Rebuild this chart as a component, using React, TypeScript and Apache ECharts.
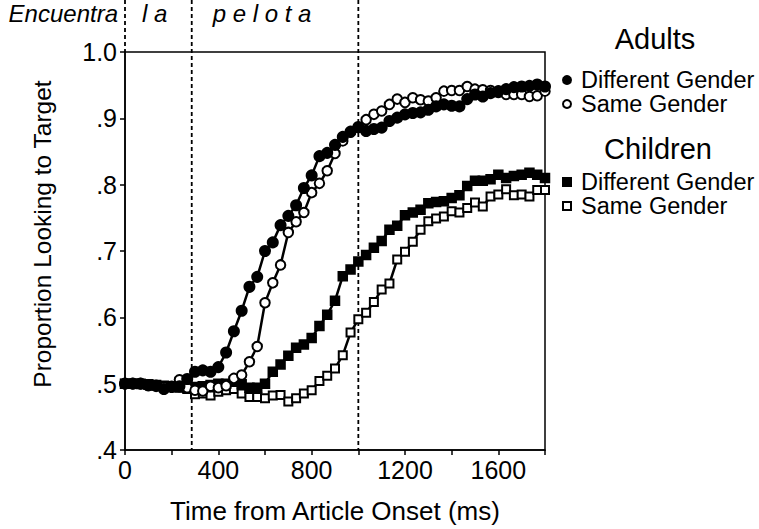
import React, { useEffect, useRef } from 'react';
import * as echarts from 'echarts';

// Sampling interval of the eye-tracking data (one frame at 30 fps)
const FRAME_MS = 1000 / 30;

const adultsDifferent = [
  0.500, 0.500, 0.500, 0.498, 0.497, 0.492, 0.495, 0.496, 0.507, 0.518,
  0.520, 0.518, 0.525, 0.547, 0.579, 0.610, 0.646, 0.661, 0.700, 0.713,
  0.739, 0.753, 0.769, 0.795, 0.814, 0.843, 0.848, 0.860, 0.872, 0.880,
  0.887, 0.881, 0.884, 0.886, 0.896, 0.901, 0.906, 0.908, 0.909, 0.913,
  0.918, 0.921, 0.919, 0.918, 0.929, 0.936, 0.933, 0.938, 0.941, 0.944,
  0.947, 0.948, 0.949, 0.951, 0.948,
];

const adultsSame = [
  0.500, 0.500, 0.500, 0.497, 0.496, 0.495, 0.496, 0.506, 0.494, 0.490,
  0.489, 0.496, 0.494, 0.497, 0.508, 0.513, 0.533, 0.556, 0.622, 0.652,
  0.679, 0.728, 0.744, 0.758, 0.788, 0.802, 0.821, 0.847, 0.866, 0.879,
  0.886, 0.898, 0.906, 0.911, 0.921, 0.929, 0.924, 0.931, 0.928, 0.926,
  0.931, 0.941, 0.942, 0.942, 0.948, 0.944, 0.943, 0.942, 0.939, 0.936,
  0.936, 0.936, 0.933, 0.934, 0.941,
];

const childrenDifferent = [
  0.500, 0.500, 0.500, 0.499, 0.498, 0.497, 0.496, 0.495, 0.494, 0.495,
  0.496, 0.498, 0.500, 0.500, 0.503, 0.499, 0.494, 0.494, 0.500, 0.518,
  0.529, 0.542, 0.554, 0.559, 0.569, 0.587, 0.604, 0.625, 0.662, 0.672,
  0.684, 0.694, 0.705, 0.715, 0.732, 0.738, 0.754, 0.758, 0.762, 0.772,
  0.774, 0.775, 0.780, 0.784, 0.798, 0.806, 0.806, 0.808, 0.815, 0.810,
  0.813, 0.815, 0.818, 0.815, 0.810,
];

const childrenSame = [
  0.500, 0.500, 0.499, 0.498, 0.497, 0.496, 0.495, 0.494, 0.492, 0.484,
  0.485, 0.482, 0.488, 0.490, 0.492, 0.485, 0.480, 0.480, 0.478, 0.482,
  0.483, 0.473, 0.478, 0.485, 0.490, 0.504, 0.512, 0.523, 0.543, 0.577,
  0.597, 0.607, 0.623, 0.642, 0.651, 0.687, 0.699, 0.714, 0.732, 0.745,
  0.749, 0.752, 0.760, 0.758, 0.765, 0.773, 0.767, 0.782, 0.785, 0.793,
  0.784, 0.785, 0.782, 0.792, 0.792,
];

// Word boundaries (ms) of the sentence "Encuentra la pelota"
const wordBoundaries = [0, 286, 1000];
const sentenceWords = ['Encuentra', 'l a', 'p e l o t a'];

const groupTitles = ['Adults', 'Children'];
const conditionNames = ['Different Gender', 'Same Gender'];

const FONT = '"Liberation Sans", Arial, Helvetica, sans-serif';

export default function App() {
  const ref = useRef<HTMLDivElement>(null);

  useEffect(() => {
    if (!ref.current) return;
    const chart = echarts.init(ref.current, null, { renderer: 'svg' });

    const toPoints = (arr: number[]) => arr.map((v, i) => [i * FRAME_MS, v]);

    const mkSeries = (
      group: string,
      cond: string,
      data: number[],
      symbol: string,
      filled: boolean,
      size: number
    ) => ({
      name: `${group} – ${cond}`,
      type: 'line',
      data: toPoints(data),
      symbol,
      symbolSize: size,
      showAllSymbol: true,
      clip: false,
      lineStyle: { color: '#000', width: 2.5 },
      itemStyle: {
        color: filled ? '#000' : '#fff',
        borderColor: '#000',
        borderWidth: 2,
      },
      emphasis: { disabled: true },
      z: 3,
    });

    const series = [
      mkSeries(groupTitles[1], conditionNames[1], childrenSame, 'rect', false, 8),
      mkSeries(groupTitles[1], conditionNames[0], childrenDifferent, 'rect', true, 8.5),
      mkSeries(groupTitles[0], conditionNames[1], adultsSame, 'circle', false, 9.5),
      mkSeries(groupTitles[0], conditionNames[0], adultsDifferent, 'circle', true, 10),
    ];

    const legendBase = {
      orient: 'vertical',
      left: 557,
      itemWidth: 8,
      itemHeight: 8,
      itemGap: 0,
      selectedMode: false,
      formatter: (name: string) => name.split(' – ')[1],
      textStyle: {
        fontFamily: FONT,
        fontSize: 23.5,
        color: '#000',
        lineHeight: 24,
        padding: [0, 0, 0, 5],
      },
    };

    chart.setOption({
      animation: false,
      backgroundColor: '#fff',
      grid: {
        left: 125,
        top: 52,
        right: 214,
        bottom: 75,
        show: true,
        borderColor: '#000',
        borderWidth: 1.5,
        backgroundColor: 'transparent',
      },
      xAxis: {
        type: 'value',
        min: 0,
        max: 1800,
        interval: 200,
        name: 'Time from Article Onset (ms)',
        nameLocation: 'middle',
        nameGap: 48,
        nameTextStyle: { fontFamily: FONT, fontSize: 26, color: '#000' },
        axisLine: { show: true, lineStyle: { color: '#000', width: 1.5 } },
        axisTick: { show: true, inside: false, length: 5, lineStyle: { color: '#000', width: 1.5 } },
        axisLabel: {
          fontFamily: FONT,
          fontSize: 25,
          color: '#000',
          margin: 7,
          formatter: (v: number) => (v % 400 === 0 ? String(v) : ''),
        },
        splitLine: { show: false },
      },
      yAxis: {
        type: 'value',
        min: 0.4,
        max: 1.0,
        interval: 0.1,
        name: 'Proportion Looking to Target',
        nameLocation: 'middle',
        nameGap: 70,
        nameTextStyle: {
          fontFamily: FONT,
          fontSize: 24.5,
          color: '#000',
          padding: [0, 0, 0, 34],
        },
        axisLine: { show: true, lineStyle: { color: '#000', width: 1.5 } },
        axisTick: { show: true, inside: false, length: 5, lineStyle: { color: '#000', width: 1.5 } },
        axisLabel: {
          fontFamily: FONT,
          fontSize: 25,
          color: '#000',
          margin: 8,
          formatter: (v: number) => (v >= 0.999 ? '1.0' : '.' + Math.round(v * 10)),
        },
        splitLine: { show: false },
      },
      legend: [
        {
          ...legendBase,
          top: 63,
          data: [
            { name: `${groupTitles[0]} – ${conditionNames[0]}`, icon: 'circle' },
            { name: `${groupTitles[0]} – ${conditionNames[1]}`, icon: 'circle' },
          ],
        },
        {
          ...legendBase,
          top: 165,
          data: [
            { name: `${groupTitles[1]} – ${conditionNames[0]}`, icon: 'rect' },
            { name: `${groupTitles[1]} – ${conditionNames[1]}`, icon: 'rect' },
          ],
        },
      ],
      series,
    });

    const [, yTop] = chart.convertToPixel({ gridIndex: 0 }, [0, 1.0]) as number[];
    const [, yBottom] = chart.convertToPixel({ gridIndex: 0 }, [0, 0.4]) as number[];
    const bx = wordBoundaries.map(
      (b) => (chart.convertToPixel({ gridIndex: 0 }, [b, 0.5]) as number[])[0]
    );

    const wordStyle = {
      fontFamily: FONT,
      fontSize: 24,
      fontStyle: 'italic',
      fill: '#000',
      textVerticalAlign: 'top',
      verticalAlign: 'top',
    };

    const graphic: any[] = [];
    bx.forEach((x, i) => {
      graphic.push({
        type: 'line',
        z: 1,
        silent: true,
        shape: { x1: x, y1: 0, x2: x, y2: i === 0 ? yTop : yBottom },
        style: { stroke: '#000', lineWidth: 1.8, lineDash: [4, 3] },
      });
    });
    graphic.push({
      type: 'text',
      x: bx[0] - 7,
      y: 1,
      style: { ...wordStyle, text: sentenceWords[0], align: 'right', textAlign: 'right' },
    });
    graphic.push({
      type: 'text',
      x: bx[0] + 17,
      y: 1,
      style: { ...wordStyle, text: sentenceWords[1], align: 'left', textAlign: 'left' },
    });
    graphic.push({
      type: 'text',
      x: bx[1] + 21,
      y: 1,
      style: { ...wordStyle, text: sentenceWords[2], align: 'left', textAlign: 'left' },
    });
    const titleStyle = {
      fontFamily: FONT,
      fontSize: 29,
      fill: '#000',
      align: 'center',
      textAlign: 'center',
      verticalAlign: 'middle',
      textVerticalAlign: 'middle',
    };
    graphic.push({ type: 'text', x: 655, y: 39, style: { ...titleStyle, text: groupTitles[0] } });
    graphic.push({ type: 'text', x: 658, y: 149, style: { ...titleStyle, text: groupTitles[1] } });

    chart.setOption({ graphic });

    return () => chart.dispose();
  }, []);

  return (
    <div
      ref={ref}
      style={{ position: 'absolute', left: 0, top: 0, width: 759, height: 529 }}
    />
  );
}
